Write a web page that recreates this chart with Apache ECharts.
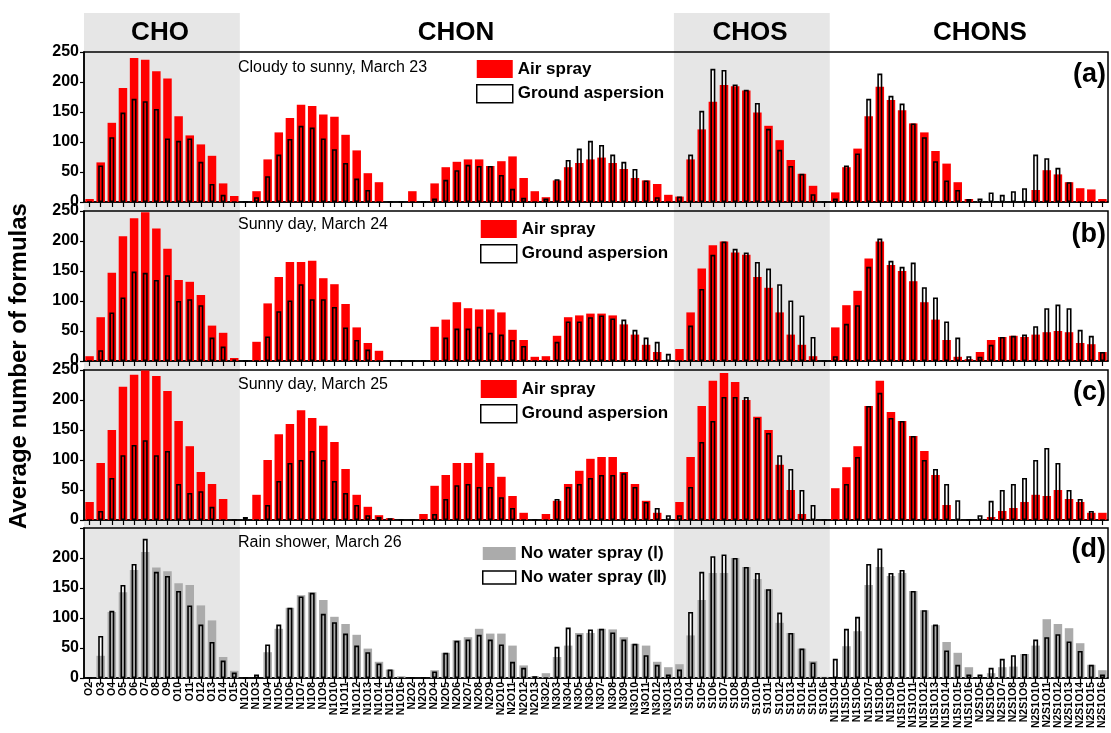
<!DOCTYPE html>
<html>
<head>
<meta charset="utf-8">
<script src="https://cdn.jsdelivr.net/npm/echarts@6/dist/echarts.min.js"></script>
<style>
  html, body { margin: 0; padding: 0; background: #fff; }
  #chart { width: 1111px; height: 733px; }
</style>
</head>
<body>
<div id="chart"></div>
<script>
// Molecular formula classes (O-number series inside each elemental group)
const categories = [
  'O2','O3','O4','O5','O6','O7','O8','O9','O10','O11','O12','O13','O14','O15',
  'N1O2','N1O3','N1O4','N1O5','N1O6','N1O7','N1O8','N1O9','N1O10','N1O11','N1O12','N1O13','N1O14','N1O15','N1O16',
  'N2O2','N2O3','N2O4','N2O5','N2O6','N2O7','N2O8','N2O9','N2O10','N2O11','N2O12','N2O13',
  'N3O2','N3O3','N3O4','N3O5','N3O6','N3O7','N3O8','N3O9','N3O10','N3O11','N3O12','N3O13',
  'S1O3','S1O4','S1O5','S1O6','S1O7','S1O8','S1O9','S1O10','S1O11','S1O12','S1O13','S1O14','S1O15','S1O16',
  'N1S1O4','N1S1O5','N1S1O6','N1S1O7','N1S1O8','N1S1O9','N1S1O10','N1S1O11','N1S1O12','N1S1O13','N1S1O14','N1S1O15','N1S1O16',
  'N2S1O5','N2S1O6','N2S1O7','N2S1O8','N2S1O9','N2S1O10','N2S1O11','N2S1O12','N2S1O13','N2S1O14','N2S1O15','N2S1O16'
];

// March 23 — cloudy to sunny
const airSpray23 = [
  5,66,132,190,240,237,218,206,143,111,96,77,31,10,
  0,18,71,116,140,162,160,146,142,112,86,48,33,0,0,
  18,0,31,58,67,71,71,60,68,76,40,18,
  8,36,58,65,71,74,65,55,40,36,30,12,
  9,71,121,167,195,193,186,149,127,103,70,47,27,0,
  16,58,89,143,192,170,153,131,116,85,64,33,5,
  0,0,0,0,0,20,53,46,33,23,21,5
];
const groundAsp23 = [
  0,61,108,149,172,168,155,106,102,106,67,30,12,0,
  0,8,43,79,105,127,124,106,88,65,39,20,0,0,0,
  0,0,6,37,53,62,60,60,45,22,7,0,
  6,38,70,89,102,95,79,67,55,36,8,0,
  9,79,152,222,220,196,187,165,122,87,60,47,13,0,
  6,61,81,172,214,177,164,131,108,68,36,20,5,
  6,16,12,18,23,79,73,57,33,0,0,0
];

// March 24 — sunny
const airSpray24 = [
  8,73,147,208,238,248,221,187,135,132,110,59,47,5,
  0,32,96,140,165,165,167,138,128,95,56,30,17,0,0,
  0,0,57,69,98,88,86,86,81,52,35,7,
  8,42,73,76,79,79,76,61,44,27,15,0,
  20,81,154,193,199,181,177,140,122,81,44,27,8,0,
  56,93,117,171,199,160,150,133,98,69,35,7,3,
  15,35,40,42,40,44,48,50,48,30,28,15
];
const groundAsp24 = [
  0,18,81,106,149,147,135,143,100,103,93,39,24,2,
  0,0,41,83,101,128,103,103,90,56,35,19,0,0,0,
  0,0,0,39,54,54,57,47,44,35,25,0,
  0,32,66,66,73,76,71,69,52,39,32,12,
  0,59,120,177,199,187,181,165,154,128,101,76,40,0,
  8,62,93,157,204,167,157,164,123,106,66,39,8,
  7,27,40,42,44,58,88,94,88,52,42,15
];

// March 25 — sunny
const airSpray25 = [
  30,95,150,222,242,249,240,215,165,123,80,60,35,0,
  0,42,100,143,160,183,170,157,130,85,42,22,8,3,0,
  0,10,57,75,95,95,112,95,72,40,12,0,
  10,32,60,82,102,105,105,80,60,32,12,0,
  30,105,190,232,245,230,200,172,150,92,50,10,0,0,
  53,88,123,190,232,180,165,140,115,75,25,0,0,
  0,5,15,20,30,42,40,50,35,30,12,12
];
const groundAsp25 = [
  0,15,70,108,125,133,108,115,60,45,48,22,0,0,
  5,0,25,65,95,100,115,100,65,45,25,8,5,3,0,
  0,0,10,35,58,60,55,55,38,20,0,0,
  0,35,55,60,70,75,75,78,55,30,20,8,
  8,55,130,165,205,205,205,170,145,108,85,50,25,0,
  0,60,105,190,212,170,165,140,100,85,60,33,0,
  8,32,50,60,70,100,120,95,50,35,15,0
];

// March 26 — rain shower, no water spray
const noSprayI26 = [
  0,37,110,143,180,210,184,178,158,155,121,96,35,12,
  0,0,43,82,117,138,143,130,102,90,72,49,27,14,3,
  0,0,13,42,63,68,82,74,74,54,21,3,
  8,35,54,75,75,82,81,68,57,54,27,18,
  23,71,130,175,175,200,185,165,148,92,75,49,28,2,
  0,53,78,155,185,170,175,145,113,88,60,42,18,
  0,8,18,19,40,54,98,90,83,58,22,13
];
const noSprayII26 = [
  0,70,112,155,190,232,177,170,145,121,89,60,29,9,
  0,6,56,89,117,136,142,107,93,74,54,43,24,14,0,
  0,0,11,42,62,64,72,64,56,27,17,3,
  0,52,84,72,81,82,76,64,57,38,22,6,
  14,110,177,203,206,200,185,175,148,109,75,49,26,0,
  32,82,102,190,216,175,180,145,113,89,46,22,6,
  6,17,32,38,40,64,68,73,61,45,22,6
];

const yTickValues = [0, 50, 100, 150, 200, 250];
const groupLabels = ['CHO', 'CHON', 'CHOS', 'CHONS'];

const FONT = '"Liberation Sans", Arial, Helvetica, sans-serif';
const GRID_LEFT = 84, GRID_WIDTH = 1024, GRID_HEIGHT = 150;
const gridTops = [52, 211, 370, 528];

const panels = [
  { note: 'Cloudy to sunny, March 23', tag: '(a)', main: airSpray23, outline: groundAsp23,
    mainName: 'Air spray', outlineName: 'Ground aspersion', color: '#ff0000',
    legend: { left: 476, top: 60, w: 36, h: 18, gap: 6 } },
  { note: 'Sunny day, March 24', tag: '(b)', main: airSpray24, outline: groundAsp24,
    mainName: 'Air spray', outlineName: 'Ground aspersion', color: '#ff0000',
    legend: { left: 480, top: 220, w: 36, h: 18, gap: 6 } },
  { note: 'Sunny day, March 25', tag: '(c)', main: airSpray25, outline: groundAsp25,
    mainName: 'Air spray', outlineName: 'Ground aspersion', color: '#ff0000',
    legend: { left: 480, top: 380, w: 36, h: 18, gap: 6 } },
  { note: 'Rain shower, March 26', tag: '(d)', main: noSprayI26, outline: noSprayII26,
    mainName: 'No water spray (Ⅰ)', outlineName: 'No water spray (Ⅱ)', color: '#ababab',
    legend: { left: 482, top: 545, w: 33, h: 13, gap: 7 } }
];
const noteTops = [60, 217, 377, 535];
const tagTops = [61, 221, 379, 536];

const grid = [], xAxis = [], yAxis = [], series = [], title = [], legend = [];

panels.forEach((p, k) => {
  const last = k === panels.length - 1;
  grid.push({
    left: GRID_LEFT, width: GRID_WIDTH, top: gridTops[k], height: GRID_HEIGHT,
    show: true, borderColor: '#000', borderWidth: 1.5, backgroundColor: 'transparent'
  });
  // visible axis carrying the filled bars
  xAxis.push({
    type: 'category', gridIndex: k, data: categories,
    axisLine: { show: true, lineStyle: { color: '#000', width: 1.5 } },
    axisTick: { show: true, alignWithLabel: true, interval: 0, length: 5, lineStyle: { color: '#000', width: 1.2 } },
    axisLabel: {
      show: last, interval: 0, rotate: 90, margin: 4,
      fontSize: 10.5, fontWeight: 'bold', color: '#000', fontFamily: FONT
    }
  });
  // twin axis for the narrower outlined bars
  xAxis.push({ type: 'category', gridIndex: k, data: categories, show: false });
  yAxis.push({
    type: 'value', gridIndex: k, min: yTickValues[0], max: yTickValues[yTickValues.length - 1],
    interval: yTickValues[1] - yTickValues[0],
    axisLine: { show: true, lineStyle: { color: '#000', width: 1.5 } },
    axisTick: { show: true, length: 4, lineStyle: { color: '#000', width: 1.2 } },
    splitLine: { show: false },
    axisLabel: {
      color: '#000', fontSize: 16, fontWeight: 'bold', fontFamily: FONT, margin: 5,
      formatter: v => (last && v === 250) ? '' : String(v)
    }
  });
  series.push({
    type: 'bar', name: 'backing', xAxisIndex: 2 * k + 1, yAxisIndex: k,
    data: p.outline, barWidth: 5, barGap: '-100%', silent: true,
    itemStyle: { color: '#ffffff' }
  });
  series.push({
    type: 'bar', name: p.mainName, xAxisIndex: 2 * k, yAxisIndex: k,
    data: p.main, barWidth: 8.5, silent: true,
    itemStyle: { color: p.color }
  });
  series.push({
    type: 'bar', name: p.outlineName, xAxisIndex: 2 * k + 1, yAxisIndex: k,
    data: p.outline, barWidth: 5, barGap: '-100%', silent: true,
    itemStyle: { color: 'rgba(0,0,0,0)', borderColor: '#000', borderWidth: 1.6 }
  });
  title.push({
    text: p.note, left: 238, top: noteTops[k], padding: 0,
    textStyle: { fontSize: 16, fontWeight: 'normal', color: '#000', fontFamily: FONT }
  });
  title.push({
    text: p.tag, right: 5, top: tagTops[k], padding: 0,
    textStyle: { fontSize: 27, fontWeight: 'bold', color: '#000', fontFamily: FONT }
  });
  legend.push({
    orient: 'vertical', left: p.legend.left, top: p.legend.top, padding: 0,
    itemWidth: p.legend.w, itemHeight: p.legend.h, itemGap: p.legend.gap,
    selectedMode: false,
    textStyle: { fontSize: 17, fontWeight: 'bold', color: '#000', fontFamily: FONT },
    data: [
      { name: p.mainName, icon: 'rect', itemStyle: { color: p.color, borderWidth: 0 } },
      { name: p.outlineName, icon: 'rect', itemStyle: { color: '#fff', borderColor: '#000', borderWidth: 1.5 } }
    ]
  });
});

// Group extents along the category axis
const step = GRID_WIDTH / categories.length;
const groupSpans = [
  ['O2', 'O15'], ['N1O2', 'N3O13'], ['S1O3', 'S1O16'], ['N1S1O4', 'N2S1O16']
].map(([a, b]) => [categories.indexOf(a), categories.indexOf(b)]);
const shadeBottom = gridTops[gridTops.length - 1] + GRID_HEIGHT;

const graphic = [];
[0, 2].forEach(g => {
  const [i0, i1] = groupSpans[g];
  graphic.push({
    type: 'rect', z: -10, silent: true,
    shape: { x: GRID_LEFT + i0 * step, y: 13, width: (i1 - i0 + 1) * step, height: shadeBottom - 13 },
    style: { fill: '#e6e6e6' }
  });
});
const headerX = [160, 456, 750, 980];
groupLabels.forEach((lab, g) => {
  graphic.push({
    type: 'text', x: headerX[g], y: 33, silent: true,
    style: { text: lab, font: 'bold 26px ' + FONT, fill: '#000',
             align: 'center', verticalAlign: 'middle', textAlign: 'center', textVerticalAlign: 'middle' }
  });
});
graphic.push({
  type: 'text', x: 19, y: 366, rotation: Math.PI / 2, silent: true,
  style: { text: 'Average number of formulas', font: 'bold 24px ' + FONT, fill: '#000',
           align: 'center', verticalAlign: 'middle', textAlign: 'center', textVerticalAlign: 'middle' }
});

const chart = echarts.init(document.getElementById('chart'));
chart.setOption({
  animation: false,
  backgroundColor: '#fff',
  textStyle: { fontFamily: FONT },
  grid, xAxis, yAxis, series, title, legend, graphic
});
</script>
</body>
</html>
